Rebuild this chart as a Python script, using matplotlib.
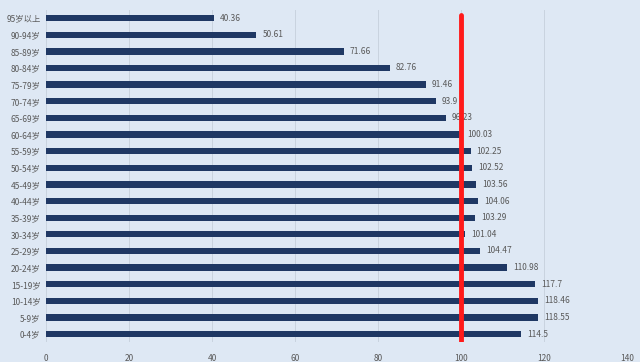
import matplotlib
matplotlib.use("Agg")
import matplotlib.pyplot as plt

plt.rcParams["font.family"] = ["Noto Sans CJK SC", "DejaVu Sans"]

ages = ["0-4岁", "5-9岁", "10-14岁", "15-19岁", "20-24岁", "25-29岁", "30-34岁",
        "35-39岁", "40-44岁", "45-49岁", "50-54岁", "55-59岁", "60-64岁", "65-69岁",
        "70-74岁", "75-79岁", "80-84岁", "85-89岁", "90-94岁", "95岁以上"]
ratio = [114.5, 118.55, 118.46, 117.7, 110.98, 104.47, 101.04, 103.29, 104.06, 103.56,
         102.52, 102.25, 100.03, 96.23, 93.9, 91.46, 82.76, 71.66, 50.61, 40.36]
xticks = [0, 20, 40, 60, 80, 100, 120, 140]
ref_value = 100

bg = "#dee8f4"
bar_color = "#1f3864"
text_color = "#595959"

fig = plt.figure(figsize=(6.4, 3.62), dpi=100, facecolor=bg)
ax = fig.add_axes([0.072, 0.054, 0.908, 0.919], facecolor=bg)

ypos = list(range(len(ages)))
ax.barh(ypos, ratio, height=0.38, color=bar_color, zorder=2)
for y, v in zip(ypos, ratio):
    ax.text(v + 1.5, y, f"{v:g}", va="center", ha="left", fontsize=6,
            color=text_color, zorder=3)

ax.axvline(ref_value, ymin=0.005, ymax=0.985, color="#ff1a1a", linewidth=3.5,
           solid_capstyle="round", zorder=4)

ax.set_xlim(0, 140)
ax.set_ylim(-0.5, len(ages) - 0.5)
ax.set_xticks(xticks)
ax.set_yticks(ypos)
ax.set_yticklabels(ages)
ax.tick_params(axis="both", length=0, labelsize=6, colors=text_color)
ax.tick_params(axis="y", pad=4)
ax.tick_params(axis="x", pad=8)
ax.xaxis.grid(True, color="#c9d3df", linewidth=0.7, zorder=0)
for s in ax.spines.values():
    s.set_visible(False)

fig.savefig("out.png", dpi=100, facecolor=bg)
